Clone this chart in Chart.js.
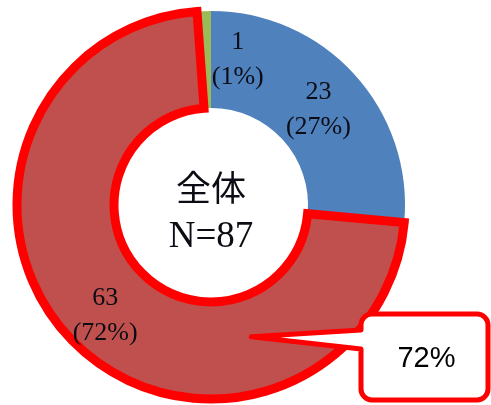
<!DOCTYPE html>
<html lang="ja">
<head>
<meta charset="UTF-8">
<title>全体 N=87</title>
<script src="https://cdn.jsdelivr.net/npm/chart.js"></script>
<style>
  body { margin: 0; background: #fff; }
  #wrap { width: 491px; height: 405px; position: relative; }
</style>
</head>
<body>
<div id="wrap"><canvas id="pie"></canvas></div>
<script>
// 回答件数（全体）— small slice first so the big one is drawn last
const categories = ["回答C", "回答B", "回答A"];
const counts = [1, 23, 63];
const percentLabels = [1, 27, 72];
const sliceColors = ["#9bbb59", "#4f81bd", "#c0504d"];
const highlightIndex = 2;

const total = counts.reduce((s, v) => s + v, 0);

// nudge for each value label, px
const labelNudge = [[32, 0], [0, 2], [-2, 8]];

const sliceLabels = {
  id: "sliceLabels",
  afterDatasetsDraw(chart) {
    const ctx = chart.ctx;
    const arcs = chart.getDatasetMeta(0).data;
    ctx.save();
    ctx.fillStyle = "#0c0c14";
    ctx.textAlign = "center";
    ctx.textBaseline = "middle";
    ctx.font = "26px 'Liberation Serif', 'DejaVu Serif', serif";
    arcs.forEach((arc, i) => {
      const p = arc.tooltipPosition();
      const x = p.x + labelNudge[i][0];
      const y = p.y + labelNudge[i][1];
      ctx.fillText(String(counts[i]), x, y - 17);
      ctx.fillText("(" + percentLabels[i] + "%)", x, y + 18);
    });

    // center caption
    const c = arcs[0];
    ctx.font = "35px 'Noto Sans CJK JP', sans-serif";
    ctx.fillText("全体", c.x, c.y - 17);
    ctx.font = "37px 'Liberation Serif', serif";
    ctx.fillText("N=" + total, c.x, c.y + 32);
    ctx.restore();
  }
};

// speech-bubble callout pointing into the highlighted slice
const callout = {
  id: "callout",
  afterDraw(chart) {
    const ctx = chart.ctx;
    const arc = chart.getDatasetMeta(0).data[highlightIndex];
    const ang = 73 * Math.PI / 180;
    const rr = arc.innerRadius + 0.42 * (arc.outerRadius - arc.innerRadius);
    const tipX = arc.x + rr * Math.cos(ang);
    const tipY = arc.y + rr * Math.sin(ang);

    const bx = 361, by = 314, bw = 127, bh = 86, r = 11;
    const baseTop = 330, baseBot = 349;

    ctx.save();
    ctx.beginPath();
    ctx.moveTo(bx + r, by);
    ctx.lineTo(bx + bw - r, by);
    ctx.arcTo(bx + bw, by, bx + bw, by + r, r);
    ctx.lineTo(bx + bw, by + bh - r);
    ctx.arcTo(bx + bw, by + bh, bx + bw - r, by + bh, r);
    ctx.lineTo(bx + r, by + bh);
    ctx.arcTo(bx, by + bh, bx, by + bh - r, r);
    ctx.lineTo(bx, baseBot);
    ctx.lineTo(tipX, tipY);
    ctx.lineTo(bx, baseTop);
    ctx.lineTo(bx, by + r);
    ctx.arcTo(bx, by, bx + r, by, r);
    ctx.closePath();
    ctx.fillStyle = "#ffffff";
    ctx.fill();
    ctx.lineWidth = 5;
    ctx.lineJoin = "round";
    ctx.strokeStyle = "#ff0000";
    ctx.stroke();

    ctx.fillStyle = "#000";
    ctx.textAlign = "center";
    ctx.textBaseline = "middle";
    ctx.font = "29px 'Liberation Sans', Arial, sans-serif";
    ctx.fillText(percentLabels[highlightIndex] + "%", bx + bw / 2 + 2, by + bh / 2 + 2);
    ctx.restore();
  }
};

new Chart(document.getElementById("pie"), {
  type: "doughnut",
  data: {
    labels: categories,
    datasets: [{
      data: counts,
      backgroundColor: sliceColors,
      borderColor: counts.map((_, i) => i === highlightIndex ? "#ff0000" : "rgba(0,0,0,0)"),
      borderWidth: counts.map((_, i) => i === highlightIndex ? 9 : 0),
      borderJoinStyle: "miter",
      borderAlign: "center"
    }]
  },
  options: {
    responsive: true,
    maintainAspectRatio: false,
    animation: false,
    rotation: -360 * counts[0] / total,
    radius: 194,
    cutout: "50%",
    layout: { padding: { top: 5, left: 0, right: 69, bottom: 0 } },
    plugins: {
      legend: { display: false },
      tooltip: { enabled: false }
    }
  },
  plugins: [sliceLabels, callout]
});
</script>
</body>
</html>
